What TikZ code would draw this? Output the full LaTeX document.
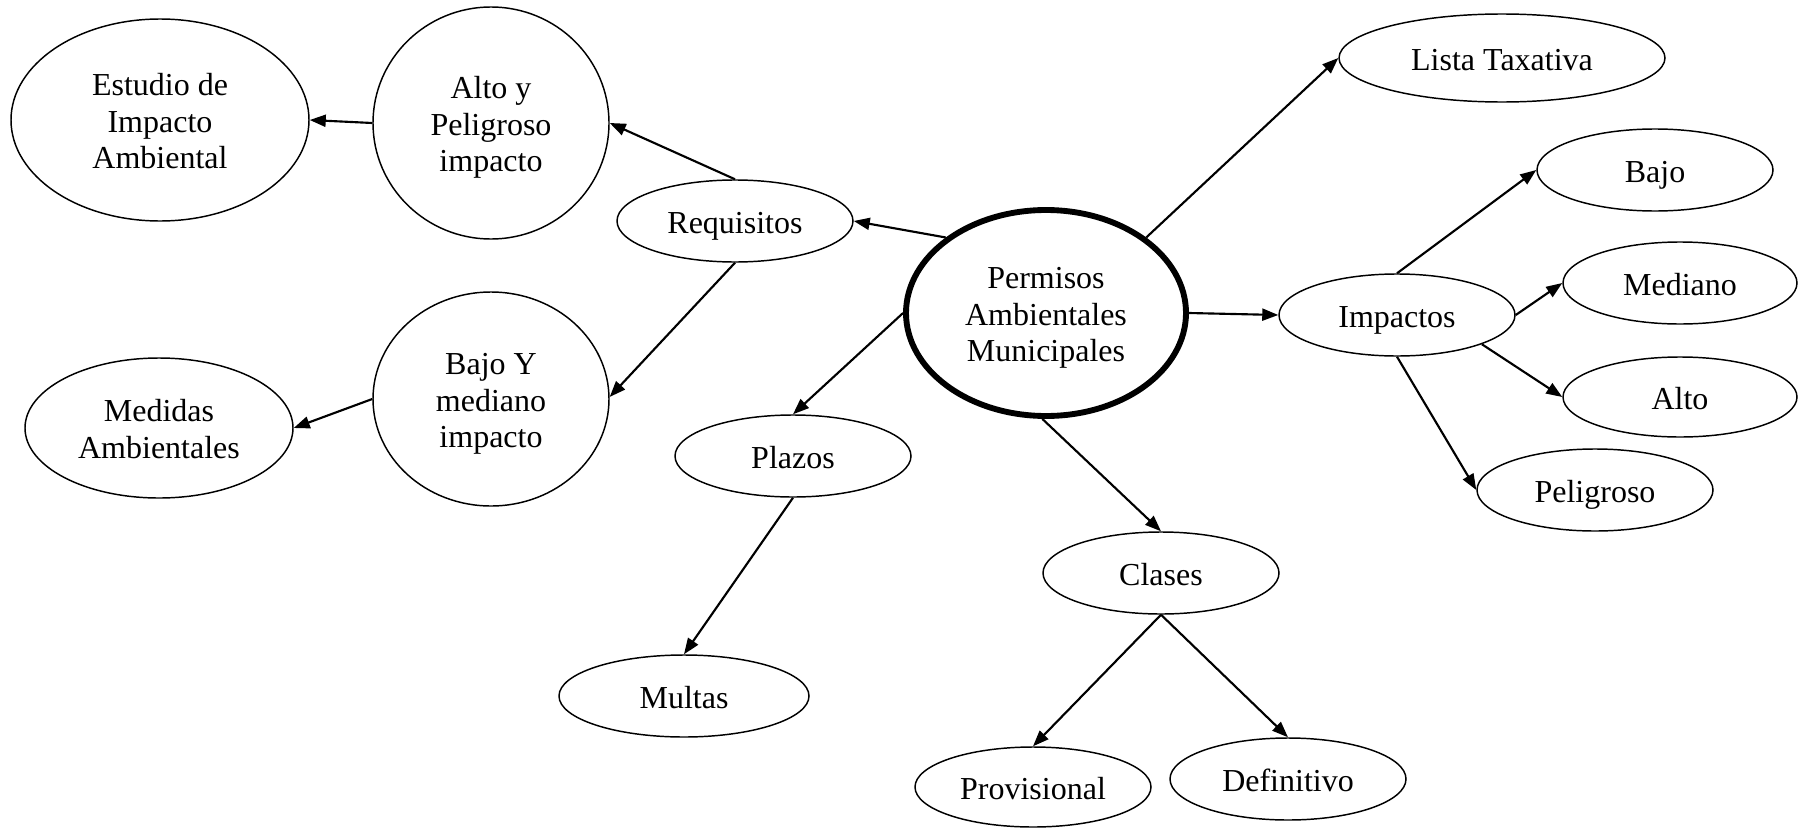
\documentclass[tikz,border=0pt]{standalone}
\usepackage{fontspec}
\setmainfont{Liberation Serif}
\usetikzlibrary{shapes.geometric,arrows.meta}
\newcommand{\lbl}[1]{\raisebox{-1.8pt}[\height][\depth]{\begin{tabular}{@{}c@{}}#1\end{tabular}}}
\tikzset{
  el/.style 2 args={ellipse, draw, line width=0.55pt, minimum width=#1*0.375pt, minimum height=#2*0.375pt, inner sep=0pt, font=\fontsize{12}{13.8}\selectfont},
  arr/.style={-{Triangle[length=6pt,width=4.5pt]}, line width=0.8pt}
}
\begin{document}
\begin{tikzpicture}[x=0.375pt,y=-0.375pt]
\useasboundingbox (0,0) rectangle (1798,828);
\node[el={280}{206}, line width=2.2pt] (pam) at (1046,313) {\lbl{Permisos\\Ambientales\\Municipales}};
\node[el={326}{88}] (lista) at (1502,58) {\lbl{Lista Taxativa}};
\node[el={236}{82}] (imp) at (1397,315) {\lbl{Impactos}};
\node[el={236}{82}] (bajo) at (1655,170) {\lbl{Bajo}};
\node[el={234}{82}] (med) at (1680,283) {\lbl{Mediano}};
\node[el={234}{80}] (alto) at (1680,397) {\lbl{Alto}};
\node[el={236}{82}] (pel) at (1595,490) {\lbl{Peligroso}};
\node[el={236}{82}] (req) at (735,221) {\lbl{Requisitos}};
\node[el={236}{232}] (ayp) at (491,123) {\lbl{Alto y\\Peligroso\\impacto}};
\node[el={298}{202}] (est) at (160,120) {\lbl{Estudio de\\Impacto\\Ambiental}};
\node[el={236}{214}] (bym) at (491,399) {\lbl{Bajo Y\\mediano\\impacto}};
\node[el={268}{140}] (meda) at (159,428) {\lbl{Medidas\\Ambientales}};
\node[el={236}{82}] (pla) at (793,456) {\lbl{Plazos}};
\node[el={250}{82}] (mul) at (684,696) {\lbl{Multas}};
\node[el={236}{82}] (cla) at (1161,573) {\lbl{Clases}};
\node[el={236}{80}] (prov) at (1033,787) {\lbl{Provisional}};
\node[el={236}{82}] (defi) at (1288,779) {\lbl{Definitivo}};

\draw[arr] (pam.143) -- (req.east);
\draw[arr] (pam.37) -- (lista.west);
\draw[arr] (pam.east) -- (imp.west);
\draw[arr] (pam.180) -- (pla.north);
\draw[arr] (pam.268) -- (cla.north);
\draw[arr] (req.north) -- (ayp.east);
\draw[arr] (req.south) -- (bym.1);
\draw[arr] (ayp.west) -- (est.east);
\draw[arr] (bym.west) -- (meda.east);
\draw[arr] (imp.north) -- (bajo.west);
\draw[arr] (imp.east) -- (med.west);
\draw[arr] (imp.-19.6) -- (alto.west);
\draw[arr] (imp.south) -- (pel.west);
\draw[arr] (pla.south) -- (mul.north);
\draw[arr] (cla.south) -- (prov.north);
\draw[arr] (cla.south) -- (defi.north);
\end{tikzpicture}
\end{document}
